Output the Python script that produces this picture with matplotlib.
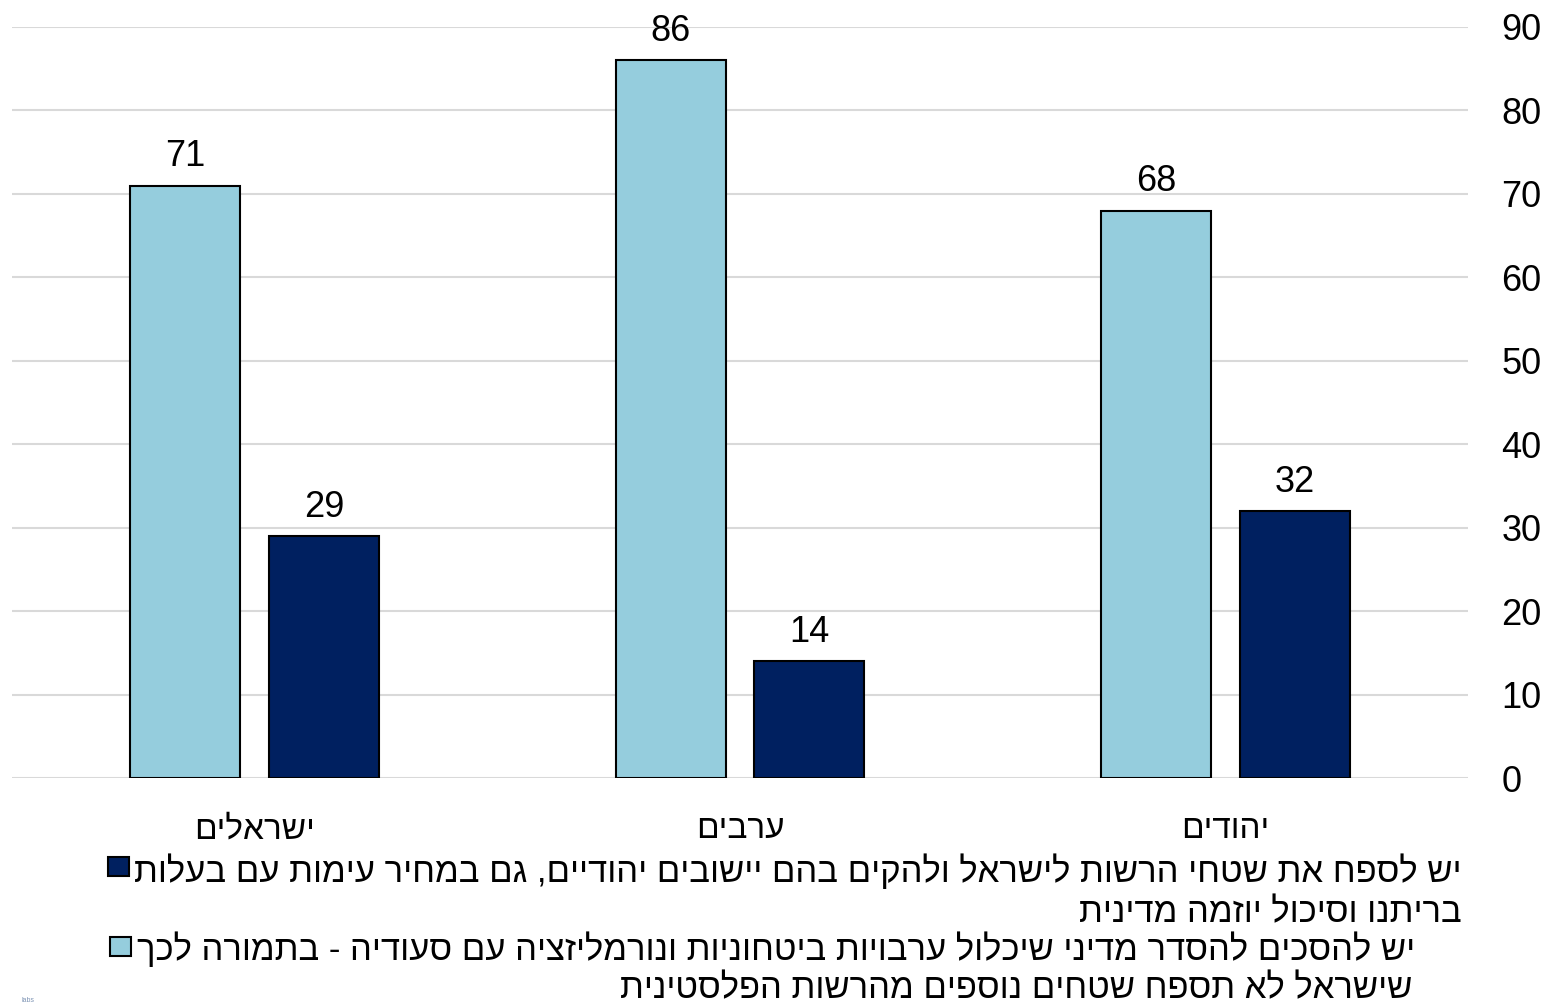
import numpy as np
import matplotlib
matplotlib.use("Agg")
import matplotlib.pyplot as plt
from matplotlib.patches import Rectangle

plt.rcParams['font.family'] = ['Liberation Sans', 'DejaVu Sans']

categories = ["ישראלים", "ערבים", "יהודים"]
agree_deal = [71, 86, 68]      # light bars
annex = [29, 14, 32]           # dark bars
legend_annex = ["יש לספח את שטחי הרשות לישראל ולהקים בהם יישובים יהודיים, גם במחיר עימות עם בעלות",
                "בריתנו וסיכול יוזמה מדינית"]
legend_deal = ["יש להסכים להסדר מדיני שיכלול ערבויות ביטחוניות ונורמליזציה עם סעודיה - בתמורה לכך",
               "שישראל לא תספח שטחים נוספים מהרשות הפלסטינית"]
yticks = list(range(0, 91, 10))

light = "#95CDDD"
dark = "#002060"


def rtl(s):
    # matplotlib has no bidi, so flip the hebrew for display
    return s[::-1]


fig = plt.figure(figsize=(15.47, 10.08), dpi=100)
ax = fig.add_axes([12 / 1547, 1 - 778 / 1008, (1468 - 12) / 1547, (778 - 27) / 1008])

x = np.arange(len(categories))
w = 0.227
off = 0.143
b1 = ax.bar(x - off, agree_deal, w, color=light, edgecolor="black", linewidth=1.5, zorder=3)
b2 = ax.bar(x + off, annex, w, color=dark, edgecolor="black", linewidth=1.5, zorder=3)

for bars, vals in [(b1, agree_deal), (b2, annex)]:
    for r, v in zip(bars, vals):
        ax.annotate(str(v), (r.get_x() + r.get_width() / 2, v), xytext=(0, 8),
                    textcoords="offset points", ha="center", va="bottom", fontsize=26)

ax.set_xlim(-0.5, 2.5)
ax.set_ylim(0, 90)
ax.set_yticks(yticks)
ax.yaxis.tick_right()
ax.tick_params(axis="y", length=0, pad=24, labelsize=26)
ax.set_xticks(x)
ax.set_xticklabels([rtl(c) for c in categories], fontsize=24)
ax.tick_params(axis="x", length=0, pad=26)
ax.grid(axis="y", color="#D9D9D9", linewidth=1.5, zorder=0)
for s in ax.spines.values():
    s.set_visible(False)


# legend drawn by hand, right aligned like the original
def fx(px):
    return px / 1547


def fy(py):
    return 1 - py / 1008


fs = 24.9
t1 = fig.text(fx(1462), fy(882), rtl(legend_annex[0]), ha="right", va="baseline", fontsize=fs)
fig.text(fx(1462), fy(922), rtl(legend_annex[1]), ha="right", va="baseline", fontsize=fs)
t2 = fig.text(fx(1415), fy(960), rtl(legend_deal[0]), ha="right", va="baseline", fontsize=fs)
fig.text(fx(1412), fy(998), rtl(legend_deal[1]), ha="right", va="baseline", fontsize=fs)

fig.canvas.draw()
r = fig.canvas.get_renderer()
for t, col, top in [(t1, dark, 857), (t2, light, 937)]:
    left = t.get_window_extent(r).x0
    fig.patches.append(Rectangle(((left - 27) / 1547, fy(top + 19)), 21 / 1547, 19 / 1008,
                                 transform=fig.transFigure, facecolor=col,
                                 edgecolor="black", linewidth=1.5))

fig.text(fx(22), fy(1000), "labs", fontsize=5, color="#7F95B5", ha="left", va="center")

fig.savefig("out.png", dpi=100)
